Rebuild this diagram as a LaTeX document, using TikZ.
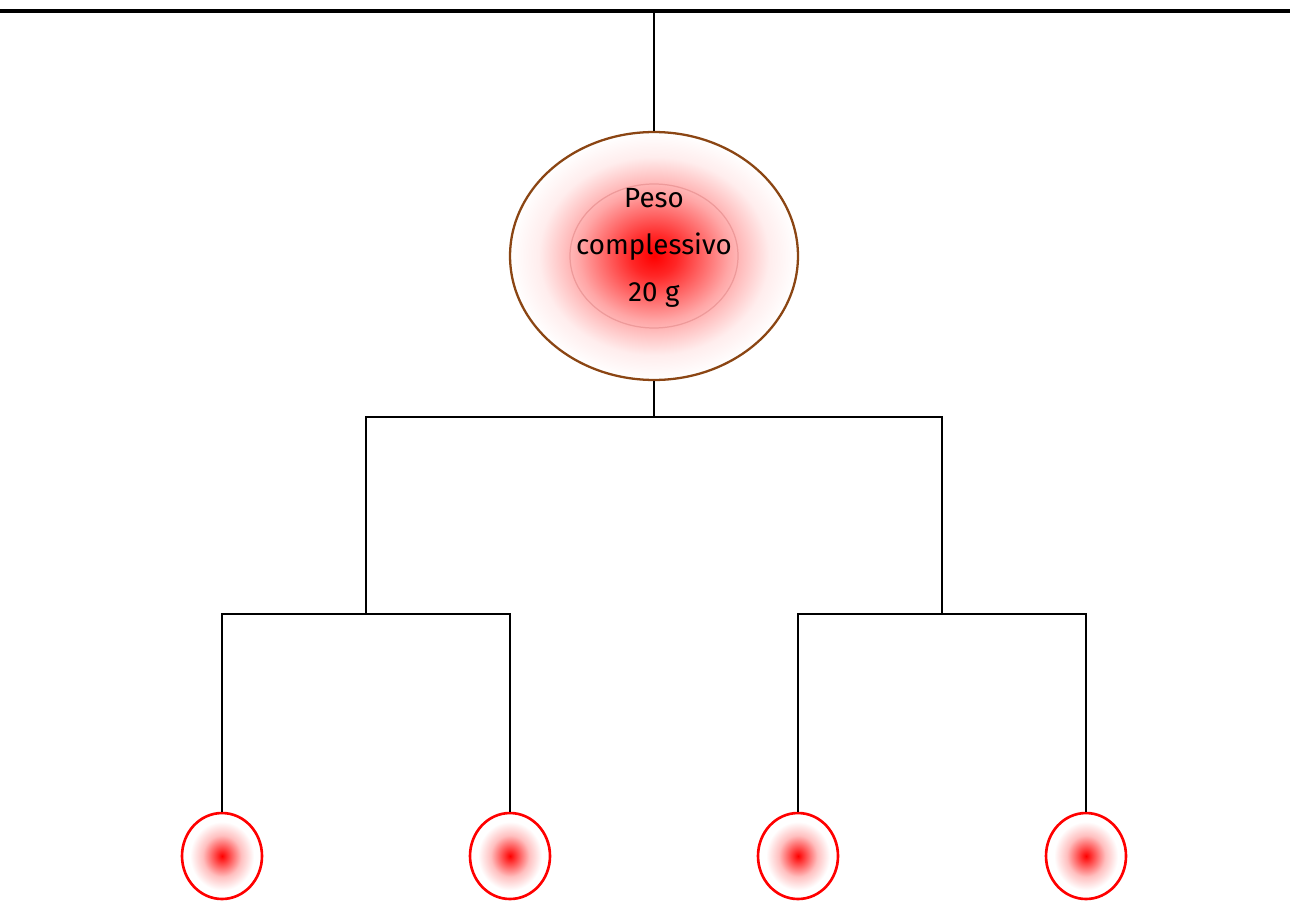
\documentclass[tikz,border=0pt]{standalone}
\usepackage{fontspec}
\setmainfont{Fira Sans}
\usetikzlibrary{shapes.geometric}

\definecolor{rim}{HTML}{8B4513}
\definecolor{halo}{HTML}{EE9A9A}
\pgfdeclareradialshading{bigglow}{\pgfpoint{0bp}{0bp}}{color(0bp)=(red); color(4bp)=(red!85); color(13bp)=(red!35); color(20bp)=(red!7); color(25bp)=(white); color(50bp)=(white)}
\pgfdeclareradialshading{smallglow}{\pgfpoint{0bp}{0bp}}{color(0bp)=(red); color(4bp)=(red!75); color(12bp)=(red!25); color(20bp)=(white); color(50bp)=(white)}

\tikzset{
  wire/.style={line width=1.2pt},
  total/.style={ellipse, draw=rim, line width=1.3pt, shading=bigglow,
    minimum width=5.76cm, minimum height=4.96cm, inner sep=0pt},
  leaf/.style={ellipse, draw=red, line width=1.5pt, shading=smallglow,
    minimum width=1.6cm, minimum height=1.72cm, inner sep=0pt},
  weight/.style={align=center, font=\fontsize{15.8}{26.7}\selectfont}
}

\begin{document}
\begin{tikzpicture}[x=0.02cm,y=-0.02cm]
\useasboundingbox (0,0) rectangle (1297,902);

% the bar everything hangs from
\draw[line width=2.3pt] (0,11) coordinate (barL) -- (1290,11) coordinate (barR);
\coordinate (hook) at (654,11);

% total weight
\node[total] (peso) at (654,256) {};
\draw[halo, line width=0.7pt] (peso.center) ellipse (84 and 72);
\node[weight] (pesotxt) at (654,248) {Peso\\complessivo\\20 g};
\draw[wire] (hook) -- (peso.north);

% forks
\coordinate (fork) at (654,417);
\coordinate (forkA) at (366,614);
\coordinate (forkB) at (942,614);
\draw[wire] (peso.south) -- (fork);
\draw[wire] (forkA) |- (fork) -| (forkB);

% the four weights
\foreach \x/\n in {222/a,510/b,798/c,1086/d} {
        \node[leaf] (leaf\n) at (\x,856) {};
 }
\draw[wire] (leafa.north) |- (forkA) -| (leafb.north);
\draw[wire] (leafc.north) |- (forkB) -| (leafd.north);
\end{tikzpicture}
\end{document}
